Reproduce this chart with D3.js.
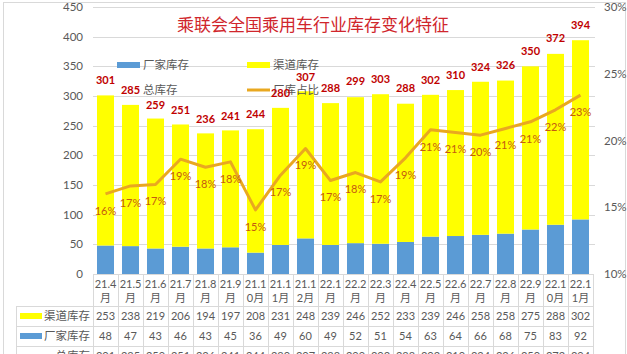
<!DOCTYPE html>
<html>
<head>
<meta charset="utf-8">
<script src="https://cdn.jsdelivr.net/npm/d3@7"></script>
<style>
  body { margin: 0; background: #fff; }
  svg { display: block; font-family: Lato, "Noto Sans CJK SC", sans-serif; }
</style>
</head>
<body>
<svg id="chart" width="627" height="354"></svg>
<script>
// data
const months = ["21.4月","21.5月","21.6月","21.7月","21.8月","21.9月","21.10月","21.11月","21.12月",
  "22.1月","22.2月","22.3月","22.4月","22.5月","22.6月","22.7月","22.8月","22.9月","22.10月","22.11月"];
const channel = [253,238,219,206,194,197,208,231,248,239,246,252,233,239,246,258,258,275,288,302];
const factory = [48,47,43,46,43,45,36,49,60,49,52,51,54,63,64,66,68,75,83,92];
const total = [301,285,259,251,236,241,244,280,307,288,299,303,288,302,310,324,326,350,372,394];
const ratio = [16.0,16.6,16.7,18.6,18.0,18.4,14.8,17.4,19.4,17.0,17.6,16.9,18.7,20.8,20.6,20.4,20.9,21.4,22.3,23.4];
const leftTicks = [0,50,100,150,200,250,300,350,400,450];
const rightTicks = [10,15,20,25,30];

const title = "乘联会全国乘用车行业库存变化特征";
const BLUE = "#5B9BD5", YELLOW = "#FFFF00", LINE = "#E9A820";
const GRID = "#D9D9D9", TXT = "#595959";

const svg = d3.select("#chart");

// chart frame
svg.append("rect")
    .attr("x", 3.5).attr("y", 2.5)
    .attr("width", 622).attr("height", 360)
    .attr("fill", "none").attr("stroke", GRID);

// scales
const x = d3.scaleBand().domain(months).range([93, 593]).paddingInner(0.32).paddingOuter(0.16);
const y = d3.scaleLinear().domain([0, 450]).range([274, 7]);
const yR = d3.scaleLinear().domain([10, 30]).range([274, 7]);

// gridlines
svg.append("g")
    .selectAll("line")
    .data(leftTicks.slice(1))
    .join("line")
    .attr("x1", 93).attr("x2", 595)
    .attr("y1", d => Math.round(y(d)) + 0.5)
    .attr("y2", d => Math.round(y(d)) + 0.5)
    .attr("stroke", GRID);

// left axis labels
svg.append("g")
    .selectAll("text")
    .data(leftTicks)
    .join("text")
    .attr("x", 83).attr("y", d => y(d)).attr("dy", "0.35em")
    .attr("text-anchor", "end")
    .attr("font-size", "11.5px").attr("fill", TXT)
    .text(d => d);

// right axis labels
svg.append("g")
    .selectAll("text")
    .data(rightTicks)
    .join("text")
    .attr("x", 604).attr("y", d => yR(d)).attr("dy", "0.35em")
    .attr("font-size", "11.5px").attr("fill", TXT)
    .text(d => d + "%");

// stacked bars
const bars = svg.append("g");
bars.selectAll("rect.f")
    .data(months)
    .join("rect")
    .attr("class", "f")
    .attr("x", d => x(d)).attr("width", x.bandwidth())
    .attr("y", (d, i) => y(factory[i]))
    .attr("height", (d, i) => y(0) - y(factory[i]))
    .attr("fill", BLUE);
bars.selectAll("rect.c")
    .data(months)
    .join("rect")
    .attr("class", "c")
    .attr("x", d => x(d)).attr("width", x.bandwidth())
    .attr("y", (d, i) => y(factory[i] + channel[i]))
    .attr("height", (d, i) => y(factory[i]) - y(factory[i] + channel[i]))
    .attr("fill", YELLOW);

// title
svg.append("text")
    .attr("x", 313).attr("y", 31)
    .attr("text-anchor", "middle")
    .attr("font-size", "17px").attr("fill", "#D0262C")
    .attr("font-family", "'Noto Sans CJK SC', sans-serif")
    .text(title);

// legend
const legend = svg.append("g").attr("font-size", "11.5px").attr("fill", TXT)
    .attr("font-family", "'Noto Sans CJK SC', sans-serif");
legend.append("rect").attr("x", 117).attr("y", 62).attr("width", 23).attr("height", 6).attr("fill", BLUE);
legend.append("text").attr("x", 143).attr("y", 65).attr("dy", "0.35em").text("厂家库存");
legend.append("rect").attr("x", 247).attr("y", 62).attr("width", 23).attr("height", 6).attr("fill", YELLOW);
legend.append("text").attr("x", 273).attr("y", 65).attr("dy", "0.35em").text("渠道库存");
legend.append("text").attr("x", 143).attr("y", 90).attr("dy", "0.35em").text("总库存");
legend.append("line").attr("x1", 247).attr("x2", 270).attr("y1", 90).attr("y2", 90)
    .attr("stroke", LINE).attr("stroke-width", 3);
legend.append("text").attr("x", 273).attr("y", 90).attr("dy", "0.35em").text("厂库占比");

// ratio line
const line = d3.line()
    .x((d, i) => x(months[i]) + x.bandwidth() / 2)
    .y(d => yR(d));
svg.append("path")
    .datum(ratio)
    .attr("d", line)
    .attr("fill", "none")
    .attr("stroke", LINE)
    .attr("stroke-width", 3)
    .attr("stroke-linejoin", "round");

// ratio labels
svg.append("g")
    .selectAll("text")
    .data(ratio)
    .join("text")
    .attr("x", (d, i) => x(months[i]) + x.bandwidth() / 2)
    .attr("y", d => yR(d) + 17).attr("dy", "0.35em")
    .attr("text-anchor", "middle")
    .attr("font-size", "11px").attr("fill", "#C55A11")
    .text(d => Math.round(d) + "%");

// total labels
svg.append("g")
    .selectAll("text")
    .data(total)
    .join("text")
    .attr("x", (d, i) => x(months[i]) + x.bandwidth() / 2)
    .attr("y", d => y(d) - 15).attr("dy", "0.35em")
    .attr("text-anchor", "middle")
    .attr("font-size", "11px").attr("font-weight", "bold").attr("fill", "#C00000")
    .text(d => d);

// data table
const table = svg.append("g");
const rowLines = [306, 326, 346];
const colEdges = months.map(m => x(m) - x.step() * x.paddingInner() / 2).concat([593]);
colEdges[0] = 93;

table.selectAll("line.v")
    .data(colEdges)
    .join("line")
    .attr("class", "v")
    .attr("x1", d => Math.round(d) + 0.5).attr("x2", d => Math.round(d) + 0.5)
    .attr("y1", 274).attr("y2", 366)
    .attr("stroke", GRID);
table.append("line")
    .attr("x1", 16.5).attr("x2", 16.5).attr("y1", 306).attr("y2", 366)
    .attr("stroke", GRID);
table.selectAll("line.h")
    .data(rowLines)
    .join("line")
    .attr("class", "h")
    .attr("x1", 16).attr("x2", 593)
    .attr("y1", d => d + 0.5).attr("y2", d => d + 0.5)
    .attr("stroke", GRID);
// zero line / table top
table.append("line")
    .attr("x1", 93).attr("x2", 593).attr("y1", 274.5).attr("y2", 274.5)
    .attr("stroke", GRID);

// header (month labels, wrapped)
const header = table.append("g")
    .attr("font-size", "11px").attr("fill", TXT).attr("text-anchor", "middle");
header.selectAll("text.a")
    .data(months)
    .join("text")
    .attr("class", "a")
    .attr("x", d => x(d) + x.bandwidth() / 2).attr("y", 284).attr("dy", "0.35em")
    .text(d => d.slice(0, 4));
header.selectAll("text.b")
    .data(months)
    .join("text")
    .attr("class", "b")
    .attr("x", d => x(d) + x.bandwidth() / 2).attr("y", 298).attr("dy", "0.35em")
    .text(d => d.slice(4));

// table rows
const rows = [
    { name: "渠道库存", values: channel, key: YELLOW, cy: 316 },
    { name: "厂家库存", values: factory, key: BLUE, cy: 336 },
    { name: "总库存", values: total, key: null, cy: 356 }
];
rows.forEach(r => {
    if (r.key) {
        table.append("rect").attr("x", 20).attr("y", r.cy - 3).attr("width", 22).attr("height", 6).attr("fill", r.key);
    }
    table.append("text")
        .attr("x", 90).attr("y", r.cy).attr("dy", "0.35em")
        .attr("text-anchor", "end")
        .attr("font-size", "11.5px").attr("fill", TXT)
        .attr("font-family", "'Noto Sans CJK SC', sans-serif")
        .text(r.name);
    table.append("g")
        .selectAll("text")
        .data(r.values)
        .join("text")
        .attr("x", (d, i) => x(months[i]) + x.bandwidth() / 2)
        .attr("y", r.cy).attr("dy", "0.35em")
        .attr("text-anchor", "middle")
        .attr("font-size", "11px").attr("fill", TXT)
        .text(d => d);
});
</script>
</body>
</html>
